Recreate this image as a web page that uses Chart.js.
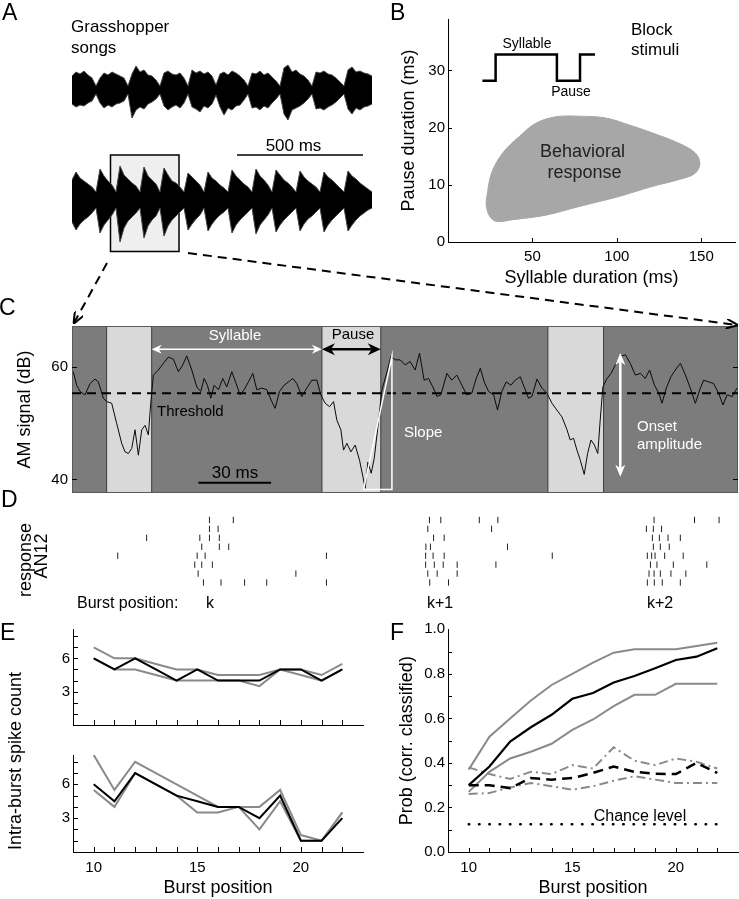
<!DOCTYPE html>
<html>
<head>
<meta charset="utf-8">
<title>Grasshopper song figure</title>
<script src="https://cdn.jsdelivr.net/npm/chart.js@4.4.1/dist/chart.umd.min.js"></script>
<style>
  html, body { margin: 0; padding: 0; background: #fff; }
  #fig { position: relative; width: 739px; height: 899px; overflow: hidden;
         font-family: 'Liberation Sans', Arial, sans-serif; color: #000; }
  #fig canvas, #fig svg { position: absolute; }
  .lab { position: absolute; white-space: nowrap; line-height: 1; }
  .c { transform: translateX(-50%); }
  .rot { transform: translate(-50%, -50%) rotate(-90deg); }
  .w { color: #fff; }
  .letter { font-size: 23px; }
  .narrow { font-family: 'Liberation Sans Narrow', 'Liberation Sans', Arial, sans-serif; }
</style>
</head>
<body>
<div id="fig">
  <svg width="739" height="300" style="left:0;top:0">
    <rect x="110.5" y="155" width="68.5" height="96.5" fill="#efefef" stroke="#000" stroke-width="1.5"/>
    <line x1="237" y1="155" x2="363" y2="155" stroke="#000" stroke-width="1.5"/>
  </svg>
  <canvas id="songTop" width="300" height="70" style="left:72px;top:55px"></canvas>
  <canvas id="songBot" width="300" height="90" style="left:72px;top:155px"></canvas>
  <canvas id="chartB" width="359" height="290" style="left:380px;top:0"></canvas>
  <canvas id="chartC" width="739" height="180" style="left:0;top:320px"></canvas>
  <canvas id="chartD" width="739" height="85" style="left:0;top:510px"></canvas>
  <canvas id="chartE1" width="370" height="110" style="left:0;top:620px"></canvas>
  <canvas id="chartE2" width="370" height="154" style="left:0;top:745px"></canvas>
  <canvas id="chartF" width="369" height="279" style="left:370px;top:620px"></canvas>
  <svg width="739" height="340" style="left:0;top:0">
    <defs>
      <marker id="ah" viewBox="0 0 12 10" refX="11" refY="5" markerWidth="12" markerHeight="10"
              markerUnits="userSpaceOnUse" orient="auto">
        <path d="M0,0 L12,5 L0,10" fill="none" stroke="#000" stroke-width="2"/>
      </marker>
    </defs>
    <line x1="107" y1="263" x2="74" y2="323" stroke="#000" stroke-width="2" stroke-dasharray="9 6" marker-end="url(#ah)"/>
    <line x1="188" y1="253" x2="737" y2="325" stroke="#000" stroke-width="2" stroke-dasharray="9 6" marker-end="url(#ah)"/>
  </svg>

  <div class="lab letter" style="left:2px;top:0.5px">A</div>
  <div class="lab letter" style="left:390px;top:0.5px">B</div>
  <div class="lab letter" style="left:-1px;top:295.5px">C</div>
  <div class="lab letter" style="left:1px;top:487.5px">D</div>
  <div class="lab letter" style="left:0;top:620.5px">E</div>
  <div class="lab letter" style="left:390px;top:620.5px">F</div>

  <div class="lab" style="left:71px;top:18.3px;font-size:17px">Grasshopper</div>
  <div class="lab" style="left:71px;top:38.9px;font-size:17px">songs</div>
  <div class="lab c" style="left:293.5px;top:137.3px;font-size:17px">500 ms</div>

  <div class="lab" style="left:631px;top:20.6px;font-size:17px">Block</div>
  <div class="lab" style="left:631px;top:40.6px;font-size:17px">stimuli</div>
  <div class="lab c" style="left:527px;top:35.8px;font-size:14px">Syllable</div>
  <div class="lab c" style="left:571px;top:84.1px;font-size:14px">Pause</div>
  <div class="lab c" style="left:582.5px;top:141.5px;font-size:18px;color:#222">Behavioral</div>
  <div class="lab c" style="left:584.5px;top:163.1px;font-size:18px;color:#222">response</div>

  <div class="lab c w" style="left:235px;top:327.3px;font-size:15px">Syllable</div>
  <div class="lab c" style="left:353px;top:326.3px;font-size:15px">Pause</div>
  <div class="lab" style="left:157px;top:403.3px;font-size:15px">Threshold</div>
  <div class="lab w" style="left:404px;top:424px;font-size:15px">Slope</div>
  <div class="lab w" style="left:637px;top:418.3px;font-size:15px">Onset</div>
  <div class="lab w" style="left:637px;top:435.6px;font-size:15px">amplitude</div>
  <div class="lab c" style="left:235px;top:463.9px;font-size:17px">30 ms</div>

  <div class="lab rot" style="left:25px;top:560px;font-size:18px">response</div>
  <div class="lab rot" style="left:41px;top:556px;font-size:18px">AN12</div>
  <div class="lab narrow" style="left:77px;top:594.5px;font-size:16px">Burst position:</div>
  <div class="lab c narrow" style="left:210px;top:594.5px;font-size:16px">k</div>
  <div class="lab c narrow" style="left:440px;top:594.5px;font-size:16px">k+1</div>
  <div class="lab c narrow" style="left:660px;top:594.5px;font-size:16px">k+2</div>

  <div class="lab rot" style="left:15px;top:761px;font-size:18px">Intra-burst spike count</div>
  <div class="lab c" style="left:640px;top:808.2px;font-size:16px">Chance level</div>
</div>

<script>
// ---------- A: song envelopes, one sample every ~16 ms (amplitude in px around trace centre)
const songTopUpper = [14,18,16,19,15,12,4, 12,17,15,18,16,14,12,4, 16,24,18,20,15,14,10,4, 17,19,16,15,17,12,4,
  20,17,19,16,18,14,5, 16,18,15,19,17,14,10,4, 17,16,19,15,17,13,9,4, 22,25,18,20,16,14,10,4,
  18,17,19,16,15,12,8,4, 20,23,18,19,17,16,14];
const songTopLower = [-14,-17,-15,-16,-13,-11,-4, -13,-18,-15,-17,-14,-13,-11,-4, -28,-20,-17,-19,-14,-12,-9,-4,
  -16,-20,-17,-15,-18,-13,-4, -17,-19,-22,-16,-18,-14,-5, -17,-25,-18,-20,-16,-15,-10,-4,
  -18,-17,-20,-16,-18,-13,-9,-4, -24,-30,-20,-18,-16,-13,-9,-4, -19,-18,-20,-17,-15,-12,-8,-4,
  -19,-24,-18,-20,-17,-16,-14];
const songBotUpper = [20,28,22,19,16,13,8, 31,24,19,15,8, 34,25,21,17,14,8, 33,24,20,16,8, 32,25,19,17,13,8,
  27,23,19,15,8, 28,22,19,15,12,8, 30,24,20,16,13,8, 31,24,20,15,8, 30,25,20,17,13,8,
  29,23,19,16,13,8, 28,23,20,16,12,8, 29,24,21,17,14,11,8];
const songBotLower = [-22,-30,-24,-20,-17,-13,-8, -33,-25,-20,-15,-8, -42,-28,-21,-17,-13,-8, -38,-26,-20,-16,-8,
  -36,-26,-20,-16,-12,-8, -30,-24,-19,-15,-8, -31,-24,-19,-15,-12,-8, -33,-25,-20,-16,-12,-8,
  -34,-25,-20,-15,-8, -32,-25,-20,-16,-12,-8, -31,-24,-19,-16,-12,-8, -32,-25,-20,-16,-12,-8,
  -31,-25,-20,-16,-13,-10,-8];

// ---------- B: behavioural response region and block stimulus sketch (ms)
const blobSyllable = [22.7,25.7,32.5,42.4,52.2,63.9,77.6,93.3,107,120.8,136.5,146.3,149.2,146.3,136.5,120.8,101.2,77.6,58.0,38.4,28.6,24.7,22.7,22.7];
const blobPause = [7.4,12.0,15.6,18.5,20.8,21.9,22.0,21.7,20.5,19.1,17.3,15.6,13.8,12.0,10.9,9.7,7.95,6.2,4.7,3.9,3.6,4.5,6.2,7.4];
const blockSyllable = [20.4,28.2,28.2,64.5,64.5,78.2,78.2,87.1];
const blockPause = [28.2,28.2,32.8,32.8,28.2,28.2,32.8,32.8];
const bXTicks = [50, 100, 150];
const bYTicks = [0, 10, 20, 30];

// ---------- C: AM signal (ms, dB)
const amTime = [0.55,1.93,3.31,5.37,7.44,9.50,10.88,12.95,14.33,16.39,18.46,20.52,21.90,23.28,24.66,26.03,27.41,28.79,30.17,31.54,
  32.51,33.61,35.67,37.74,39.81,41.87,43.94,45.73,47.38,49.45,51.52,53.17,54.55,55.92,57.30,58.68,60.47,62.26,63.91,65.98,
  67.77,69.42,71.07,72.87,74.66,76.31,78.37,80.44,82.51,83.88,85.67,87.60,89.39,91.18,92.84,94.90,96.97,99.04,101.10,102.75,
  104.55,106.34,107.99,109.37,111.02,112.12,113.50,115.15,116.94,118.73,120.11,121.07,122.18,123.55,124.79,126.17,127.96,129.75,131.68,133.47,
  135.5,137.6,139.6,141.7,143.5,145.4,147.2,149.0,150.7,152.3,154.8,156.8,158.9,161.0,163.0,165.1,166.9,168.6,170.2,172.0,
  174.1,175.7,177.5,179.3,181.2,183.0,185.1,186.7,188.5,189.9,192.0,194.0,196.1,198.2,200.2,202.3,204.4,205.7,207.1,208.5,
  209.9,211.5,212.9,214.3,215.7,217.1,218.1,219.2,220.9,222.6,224.3,226.4,228.5,230.5,232.6,234.7,236.7,238.5,240.5,242.3,
  243.6,245.4,247.3,249.1,251.2,253.3,255.3,257.4,259.2,260.8,262.9,264.9,267.0,268.8,270.5,272.6,274.6];
const amDb = [59.1,56.7,55.6,55.0,57.0,57.8,57.3,54.4,53.8,53.5,49.9,46.4,44.9,44.6,45.5,48.8,44.3,48.8,49.6,47.9,
  53.5,58.5,59.4,60.6,61.7,61.3,59.1,60.3,61.9,59.4,56.4,55.6,57.9,56.7,54.4,56.7,55.9,57.9,56.4,59.1,
  57.0,55.0,55.9,57.3,58.8,55.9,56.2,55.9,53.8,52.6,55.6,56.7,57.3,57.9,57.0,54.7,56.2,57.6,57.6,55.0,
  53.5,52.9,53.8,50.5,48.8,45.2,46.4,44.9,46.1,43.4,40.5,38.4,43.1,41.1,43.7,48.8,55.9,58.5,61.8,61.2,
  61.2,60.3,60.9,59.4,62.4,57.6,57.9,56.4,54.7,55.0,58.8,57.6,58.5,56.7,55.0,55.3,57.9,59.7,57.3,55.6,
  55.0,52.3,55.6,57.3,56.7,57.6,58.2,56.4,54.4,54.7,57.8,56.2,55.3,53.5,52.3,51.1,48.8,47.0,47.3,45.2,
  43.4,40.9,44.6,47.0,46.1,44.6,50.5,56.4,57.9,58.8,60.3,61.8,62.1,60.6,58.5,58.8,57.9,59.4,56.7,55.3,
  53.5,56.2,58.2,59.4,60.6,58.5,56.2,53.5,55.9,57.6,57.3,57.0,55.3,53.2,55.0,54.7,56.2];
const threshold = 55.3;
const pauses = [[14.3, 32.9], [103.2, 127.5], [196.5, 219.5]];
const cXMax = 275;
const cYTicks = [40, 60];

// ---------- D: AN12 spike times per trial (ms, same time axis as C)
const spikeTimes = [
  [57.1, 67.0, 148.5, 153.2, 169.2, 176.9, 241.8, 258.6, 268.8],
  [57.1, 60.7, 147.8, 174.3, 238.6, 241.5, 244.9],
  [31.0, 53.1, 57.1, 61.2, 150.2, 154.6, 241.1, 244.0, 247.6, 252.7],
  [53.9, 61.2, 65.1, 147.0, 148.9, 180.9, 241.5, 244.4, 248.1],
  [19.0, 52.0, 55.3, 105.7, 146.9, 150.0, 154.6, 199.5, 239.0, 240.8, 242.2, 246.2, 253.9],
  [51.0, 53.9, 58.3, 146.9, 150.5, 154.2, 160.0, 176.1, 240.3, 243.0, 249.8, 263.7],
  [52.4, 93.0, 147.8, 151.7, 160.0, 239.7, 241.8, 244.4, 248.8, 255.0],
  [54.6, 61.9, 71.7, 80.9, 105.7, 148.6, 156.4, 239.0, 241.9, 245.2, 252.7]
];

// ---------- E: intra-burst spike count
const burstPos = [10,11,12,13,14,15,16,17,18,19,20,21,22];
const eTopMean = [6,5,6,5,4,5,4,4,4,5,5,4,5];
const eTopHi = [7,6,6,5.5,5,5,4.5,4.5,4.5,5,5,4.5,5.5];
const eTopLo = [6,5,5,4.5,4,4,4,4,3.5,5,4.5,4,5];
const eBotMean = [6,4.5,7,6,5,4.5,4,4,3,5,1,1,3];
const eBotHi = [8.6,5.5,8,7,6,5,4,4,4,5.5,1.5,1,3.5];
const eBotLo = [5.5,4,7,6,5,3.5,3.5,4,2,4.5,1,1,3.5];
const eYTicks = [1,2,3,4,5,6,7,8];
const eYLabels = [3, 6];
const posTicks = burstPos;
const posLabels = [10, 15, 20];

// ---------- F: classification probability
const fMean = [0.30,0.384,0.496,0.56,0.616,0.688,0.714,0.761,0.79,0.825,0.862,0.877,0.915];
const fHi = [0.37,0.518,0.60,0.68,0.75,0.80,0.85,0.895,0.91,0.91,0.91,0.925,0.94];
const fLo = [0.27,0.36,0.42,0.45,0.486,0.548,0.595,0.655,0.706,0.706,0.755,0.755,0.755];
const fShuf = [0.30,0.30,0.287,0.332,0.325,0.332,0.355,0.384,0.36,0.351,0.35,0.40,0.355];
const fShufHi = [0.38,0.35,0.328,0.36,0.35,0.39,0.375,0.47,0.41,0.39,0.42,0.405,0.375];
const fShufLo = [0.26,0.265,0.29,0.31,0.295,0.28,0.295,0.32,0.34,0.325,0.31,0.31,0.31];
const chanceX = [10, 22];
const chanceY = [0.125, 0.125];
const fYTicks = [0,0.1,0.2,0.3,0.4,0.5,0.6,0.7,0.8,0.9,1];
const fYLabels = [0,0.2,0.4,0.6,0.8,1];

// ---------- helpers
const GRAY = '#8a8a8a';
const DARK = '#7c7c7c';
const LIGHT = '#d9d9d9';
const pts = (xs, ys) => xs.map((x, i) => ({ x, y: ys[i] }));

Chart.defaults.font.family = "'Liberation Sans', Arial, sans-serif";
Chart.defaults.color = '#000';
Chart.defaults.animation = false;
Chart.defaults.responsive = false;
Chart.defaults.maintainAspectRatio = false;
Chart.defaults.plugins.legend.display = false;
Chart.defaults.plugins.tooltip.enabled = false;
Chart.defaults.elements.point.radius = 0;

function axis(o) {
  const sc = {
    type: 'linear', min: o.min, max: o.max,
    grid: { display: false, drawTicks: false },
    border: { display: o.border !== false, color: '#000', width: 1 },
    ticks: {
      display: !!o.labels, autoSkip: false, maxRotation: 0, padding: o.pad ?? 3,
      font: { size: 15 }, color: '#000',
      callback: v => (o.labels && o.labels.includes(v)) ? (o.fmt || String)(v) : ''
    },
    afterFit: s => {
      if (o.width != null) s.width = o.width;
      if (o.height != null) s.height = o.height;
      s.paddingTop = s.paddingBottom = s.paddingLeft = s.paddingRight = 0;
    }
  };
  if (o.ticks) sc.afterBuildTicks = s => { s.ticks = o.ticks.map(v => ({ value: v })); };
  if (o.title) sc.title = { display: true, text: o.title, font: { size: 18 }, color: '#000', padding: o.titlePad };
  return sc;
}

// matlab-style tick marks drawn inward
const innerTicks = {
  id: 'innerTicks',
  afterDatasetsDraw(chart, args, opts) {
    const { ctx, chartArea: a } = chart;
    const len = opts.len || 4;
    ctx.save();
    ctx.strokeStyle = '#000';
    ctx.lineWidth = 1;
    ctx.beginPath();
    for (const id of ['x', 'y']) {
      const s = chart.scales[id];
      if (!s || s.options.display === false) continue;
      for (const t of s.ticks) {
        if (t.value <= s.min || t.value >= s.max) continue;
        const p = Math.round(s.getPixelForValue(t.value)) + 0.5;
        if (id === 'x') {
          ctx.moveTo(p, a.bottom); ctx.lineTo(p, a.bottom - len);
        } else {
          ctx.moveTo(a.left, p); ctx.lineTo(a.left + len, p);
          if (opts.both) { ctx.moveTo(a.right, p); ctx.lineTo(a.right - len, p); }
        }
      }
    }
    ctx.stroke();
    ctx.restore();
  }
};

function arrowHead(ctx, x, y, ang, len, half) {
  const c = Math.cos(ang), s = Math.sin(ang);
  ctx.beginPath();
  ctx.moveTo(x, y);
  ctx.lineTo(x - len * c - half * s, y - len * s + half * c);
  ctx.lineTo(x - 0.7 * len * c, y - 0.7 * len * s);
  ctx.lineTo(x - len * c + half * s, y - len * s - half * c);
  ctx.closePath();
  ctx.fill();
}
function dblArrow(ctx, x1, y1, x2, y2, color, w, len, half) {
  const ang = Math.atan2(y2 - y1, x2 - x1);
  ctx.strokeStyle = color; ctx.fillStyle = color; ctx.lineWidth = w;
  ctx.beginPath();
  ctx.moveTo(x1 + Math.cos(ang) * len * 0.7, y1 + Math.sin(ang) * len * 0.7);
  ctx.lineTo(x2 - Math.cos(ang) * len * 0.7, y2 - Math.sin(ang) * len * 0.7);
  ctx.stroke();
  arrowHead(ctx, x2, y2, ang, len, half);
  arrowHead(ctx, x1, y1, ang + Math.PI, len, half);
}

// C annotations in data units
const spanDb = 63.1;
const slopeTri = [[120.4, 38.2], [132.1, 61.8], [132.1, 38.2]];
const onsetAt = 226.4, onsetTop = 62.4, onsetBottom = 40.5;
const scaleBarMs = [52.2, 82.2], scaleBarDb = 39.4;

const cDecor = {
  id: 'cDecor',
  beforeDatasetsDraw(chart) {
    const { ctx, chartArea: a, scales: { x } } = chart;
    ctx.save();
    ctx.fillStyle = DARK;
    ctx.fillRect(a.left, a.top, a.width, a.height);
    ctx.fillStyle = LIGHT;
    ctx.strokeStyle = '#3a3a3a';
    ctx.lineWidth = 1;
    for (const [p0, p1] of pauses) {
      const x0 = x.getPixelForValue(p0), x1 = x.getPixelForValue(p1);
      ctx.fillRect(x0, a.top, x1 - x0, a.height);
      ctx.beginPath();
      ctx.moveTo(x0, a.top); ctx.lineTo(x0, a.bottom);
      ctx.moveTo(x1, a.top); ctx.lineTo(x1, a.bottom);
      ctx.stroke();
    }
    ctx.strokeStyle = '#5a5a5a';
    ctx.strokeRect(a.left + 0.5, a.top + 0.5, a.width - 1, a.height - 1);
    ctx.restore();
  },
  afterDatasetsDraw(chart) {
    const { ctx, scales: { x, y } } = chart;
    const X = v => x.getPixelForValue(v), Y = v => y.getPixelForValue(v);
    ctx.save();
    dblArrow(ctx, X(pauses[0][1]), Y(spanDb), X(pauses[1][0]), Y(spanDb), '#fff', 1.5, 10, 4.5);
    dblArrow(ctx, X(pauses[1][0]), Y(spanDb), X(pauses[1][1]), Y(spanDb), '#000', 2.5, 13, 6);
    ctx.strokeStyle = '#fff';
    ctx.lineWidth = 1.5;
    ctx.beginPath();
    slopeTri.forEach(([t, d], i) => i ? ctx.lineTo(X(t), Y(d)) : ctx.moveTo(X(t), Y(d)));
    ctx.closePath();
    ctx.stroke();
    dblArrow(ctx, X(onsetAt), Y(onsetTop), X(onsetAt), Y(onsetBottom), '#fff', 2.5, 12, 5);
    ctx.strokeStyle = '#000';
    ctx.lineWidth = 2;
    ctx.beginPath();
    ctx.moveTo(X(scaleBarMs[0]), Y(scaleBarDb));
    ctx.lineTo(X(scaleBarMs[1]), Y(scaleBarDb));
    ctx.stroke();
    ctx.restore();
  }
};

// ---------- A
function songChart(id, upper, lower, range) {
  return new Chart(document.getElementById(id), {
    type: 'line',
    data: {
      labels: upper.map((_, i) => i),
      datasets: [
        { data: upper, borderColor: '#444', borderWidth: 1, fill: false },
        { data: lower, borderColor: '#444', borderWidth: 1, fill: '-1', backgroundColor: '#000' }
      ]
    },
    options: {
      layout: { padding: 0 },
      scales: { x: { display: false }, y: { display: false, min: -range, max: range } }
    }
  });
}
songChart('songTop', songTopUpper, songTopLower, 35);
songChart('songBot', songBotUpper, songBotLower, 45);

// ---------- B
new Chart(document.getElementById('chartB'), {
  type: 'scatter',
  data: {
    datasets: [
      { data: pts(blockSyllable, blockPause), showLine: true, borderColor: '#000', borderWidth: 2.5, fill: false },
      { data: pts(blobSyllable, blobPause), showLine: true, tension: 0.35, fill: 'shape',
        backgroundColor: '#a7a7a7', borderColor: '#a7a7a7', borderWidth: 1 }
    ]
  },
  options: {
    layout: { padding: { left: 0, top: 19, right: 4, bottom: 0 } },
    scales: {
      x: axis({ min: 0, max: 170, ticks: bXTicks, labels: bXTicks, pad: 6, height: 48,
                title: 'Syllable duration (ms)', titlePad: { top: 0, bottom: 1 } }),
      y: axis({ min: 0, max: 39, ticks: bYTicks, labels: bYTicks, pad: 3, width: 68,
                title: 'Pause duration (ms)', titlePad: { top: 18, bottom: 0 } })
    },
    plugins: { innerTicks: { len: 4 } }
  },
  plugins: [innerTicks]
});

// ---------- C
new Chart(document.getElementById('chartC'), {
  type: 'line',
  data: {
    datasets: [
      { data: [{ x: 0, y: threshold }, { x: cXMax, y: threshold }], borderColor: '#000', borderWidth: 2, borderDash: [9, 6] },
      { data: pts(amTime, amDb), borderColor: '#0a0a0a', borderWidth: 1 }
    ]
  },
  options: {
    layout: { padding: { left: 0, top: 6, right: 1, bottom: 7 } },
    scales: {
      x: { type: 'linear', display: false, min: 0, max: cXMax },
      y: axis({ min: 37.6, max: 67.2, ticks: cYTicks, labels: cYTicks, pad: 4, width: 72, border: false,
                title: 'AM signal (dB)', titlePad: { top: 14, bottom: 0 } })
    },
    plugins: { innerTicks: { len: 5, both: true } }
  },
  plugins: [cDecor, innerTicks]
});

// ---------- D
const spikePts = spikeTimes.flatMap((row, i) => row.map(t => ({ x: t, y: i + 1 })));
new Chart(document.getElementById('chartD'), {
  type: 'scatter',
  data: {
    datasets: [{ data: spikePts, pointStyle: 'line', pointRotation: 90, pointRadius: 3.2,
                 pointBorderColor: '#222', borderColor: '#222', pointBorderWidth: 1 }]
  },
  options: {
    layout: { padding: { left: 72, top: 5.5, right: 1, bottom: 8 } },
    scales: {
      x: { type: 'linear', display: false, min: 0, max: cXMax },
      y: { type: 'linear', display: false, min: 0.5, max: 8.5, reverse: true }
    }
  }
});

// ---------- E
function countChart(id, mean, hi, lo, withAxisLabels) {
  return new Chart(document.getElementById(id), {
    type: 'line',
    data: {
      datasets: [
        { data: pts(burstPos, mean), borderColor: '#000', borderWidth: 2 },
        { data: pts(burstPos, hi), borderColor: GRAY, borderWidth: 2 },
        { data: pts(burstPos, lo), borderColor: GRAY, borderWidth: 2 }
      ]
    },
    options: {
      layout: { padding: withAxisLabels ? { left: 0, top: 10, right: 7, bottom: 0 } : { left: 0, top: 9.5, right: 7, bottom: 5 } },
      scales: {
        x: withAxisLabels
          ? axis({ min: 9, max: 23, ticks: posTicks, labels: posLabels, pad: 7, height: 47,
                   title: 'Burst position', titlePad: { top: 0, bottom: 0 } })
          : axis({ min: 9, max: 23, ticks: posTicks, height: 0 }),
        y: axis({ min: 0, max: 8.6, ticks: eYTicks, labels: eYLabels, pad: 3, width: 73 })
      },
      plugins: { innerTicks: { len: 5 } }
    },
    plugins: [innerTicks]
  });
}
countChart('chartE1', eTopMean, eTopHi, eTopLo, false);
countChart('chartE2', eBotMean, eBotHi, eBotLo, true);

// ---------- F
new Chart(document.getElementById('chartF'), {
  type: 'line',
  data: {
    datasets: [
      { data: pts(chanceX, chanceY), borderColor: '#000', borderWidth: 2.5, borderDash: [0.5, 9.8], borderCapStyle: 'round' },
      { data: pts(burstPos, fMean), borderColor: '#000', borderWidth: 2.2 },
      { data: pts(burstPos, fShuf), borderColor: '#000', borderWidth: 2.5, borderDash: [10, 6] },
      { data: pts(burstPos, fHi), borderColor: GRAY, borderWidth: 2 },
      { data: pts(burstPos, fLo), borderColor: GRAY, borderWidth: 2 },
      { data: pts(burstPos, fShufHi), borderColor: GRAY, borderWidth: 2, borderDash: [9, 4, 2, 4] },
      { data: pts(burstPos, fShufLo), borderColor: GRAY, borderWidth: 2, borderDash: [9, 4, 2, 4] }
    ]
  },
  options: {
    layout: { padding: { left: 0, top: 9.3, right: 1, bottom: 0 } },
    scales: {
      x: axis({ min: 9, max: 23, ticks: posTicks, labels: posLabels, pad: 7, height: 47,
                title: 'Burst position', titlePad: { top: 0, bottom: 0 } }),
      y: axis({ min: 0, max: 1, ticks: fYTicks, labels: fYLabels, fmt: v => v.toFixed(1), pad: 3, width: 78,
                title: 'Prob (corr. classified)', titlePad: { top: 26, bottom: 0 } })
    },
    plugins: { innerTicks: { len: 4 } }
  },
  plugins: [innerTicks]
});
</script>
</body>
</html>
